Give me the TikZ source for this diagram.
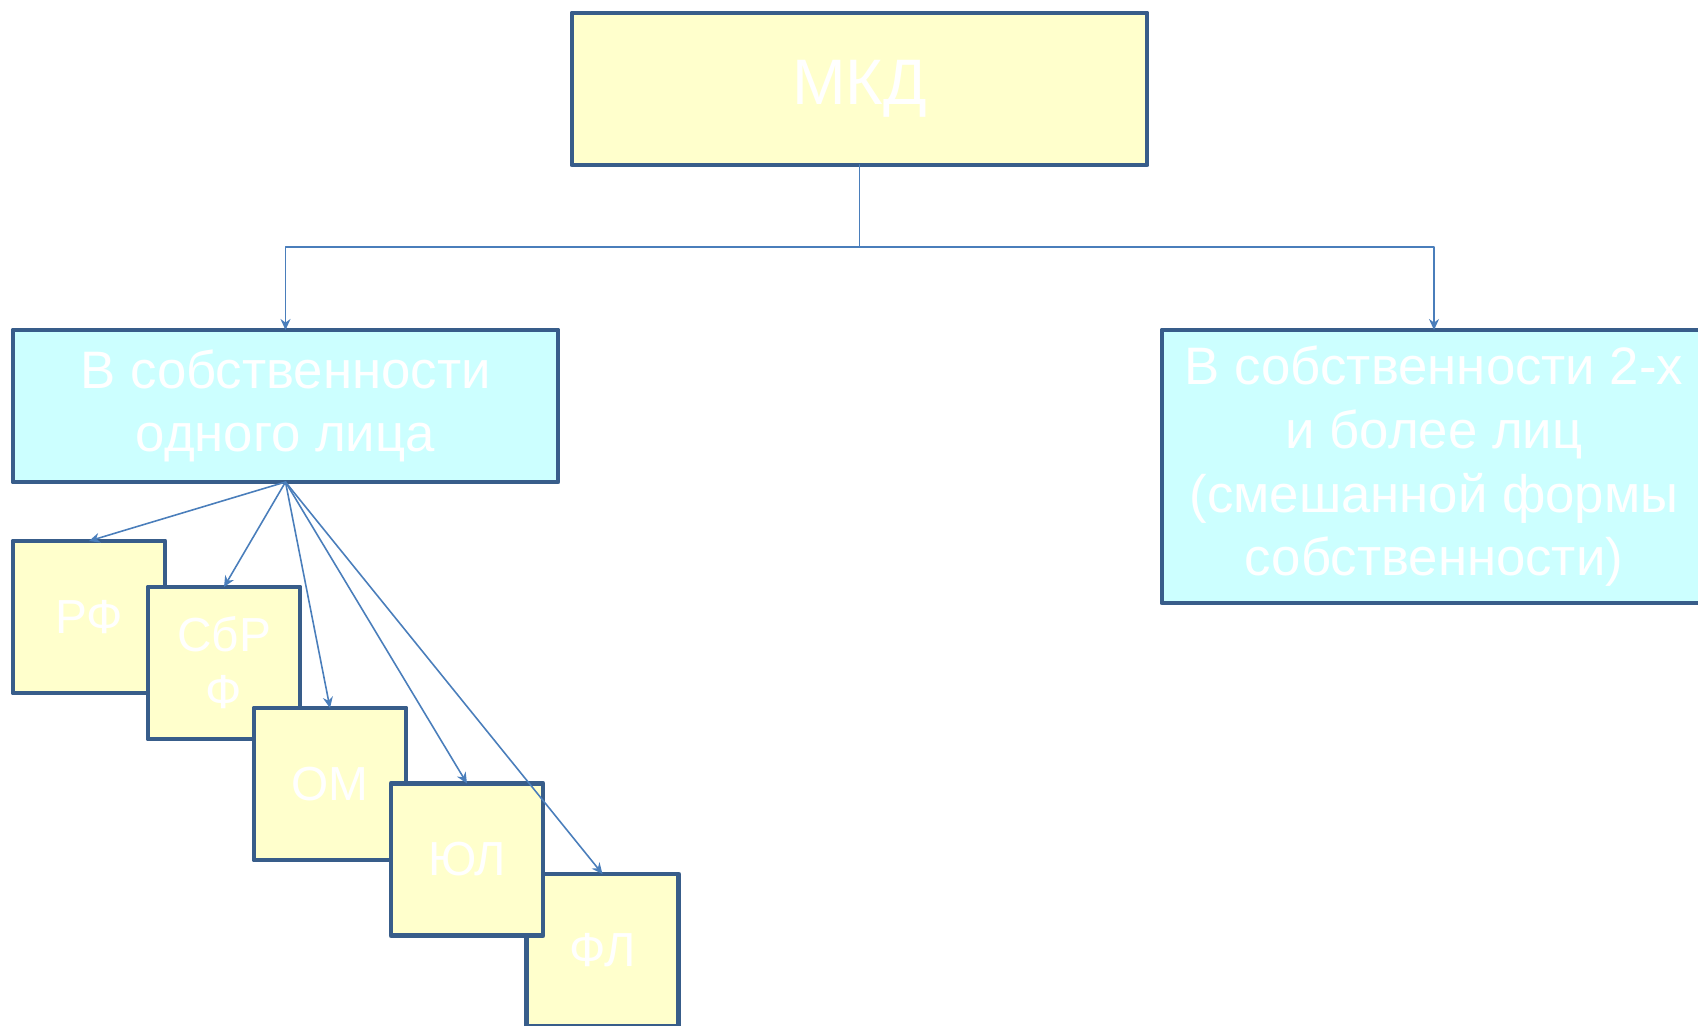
\documentclass[tikz,border=0pt]{standalone}
\usepackage{fontspec}
\setmainfont{Liberation Sans}
\usetikzlibrary{arrows.meta}
\definecolor{boxline}{HTML}{385D8A}
\definecolor{arrowline}{HTML}{4A7EBB}
\definecolor{paleyellow}{HTML}{FFFFCC}
\definecolor{palecyan}{HTML}{CCFFFF}
\tikzset{
	boxbase/.style={draw=boxline, line width=1.4pt, text=white, align=center, inner sep=0pt, outer sep=0pt},
	yellowbox/.style={boxbase, fill=paleyellow},
	cyanbox/.style={boxbase, fill=palecyan},
	smallbox/.style={yellowbox, minimum width=1.52cm, minimum height=1.52cm, font=\fontsize{13.6}{16.2}\selectfont},
	conn/.style={draw=arrowline, line width=0.45pt},
}
\begin{document}
\begin{tikzpicture}[line join=round, line cap=round, >={Stealth[length=1.1mm, width=1mm]}]
	\useasboundingbox (0,0) rectangle (16.98,-10.25);
	%%%%%%%%%%%%%%%%%%%%%%%%%%%%%%%%%
	\node[yellowbox, minimum width=5.75cm, minimum height=1.52cm, font=\fontsize{18.3}{20}\selectfont] (mkd) at (8.595,-0.89) {МКД};
	\node[cyanbox, minimum width=5.45cm, minimum height=1.52cm, font=\fontsize{15}{18}\selectfont] (one) at (2.855,-4.06) {В собственности\\одного лица};
	\node[cyanbox, minimum width=5.44cm, minimum height=2.73cm, font=\fontsize{15}{18.1}\selectfont] (many) at (14.34,-4.665) {В собственности 2-х\\и более лиц\\(смешанной формы\\собственности)};
	%%%%%%%%%%%%%%%%%%%%%%%%%%%%%%%%%
	\node[smallbox] (rf) at (0.89,-6.17) {РФ};
	\node[smallbox] (sbrf) at (2.24,-6.63) {СбР\\Ф};
	\node[smallbox] (om) at (3.30,-7.84) {ОМ};
	\node[smallbox] (fl) at (6.025,-9.50) {ФЛ};
	\node[smallbox] (yul) at (4.67,-8.595) {ЮЛ};
	%%%%%%%%%%%%%%%%%%%%%%%%%%%%%%%%%
	\coordinate (fork) at (8.595,-2.47);
	\draw[conn] (mkd.south) -- (fork);
	\draw[conn, ->] (fork) -| (one.north);
	\draw[conn, ->] (fork) -| (many.north);
	\foreach \target in {rf, sbrf, om, yul, fl}
		\draw[conn, ->] (one.south) -- (\target.north);
	%%%%%%%%%%%%%%%%%%%%%%%%%%%%%%%%%
\end{tikzpicture}
\end{document}
